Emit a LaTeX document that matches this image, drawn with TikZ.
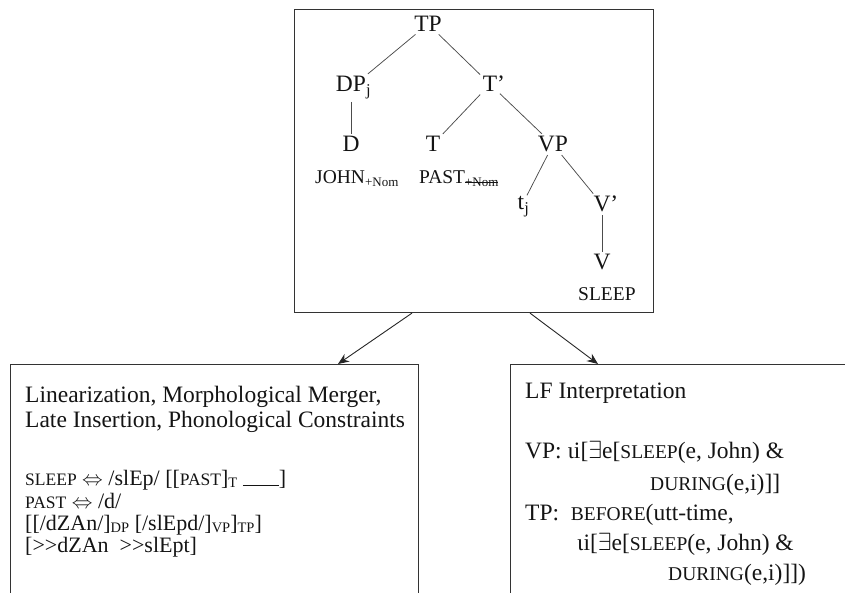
\documentclass[tikz,border=0pt]{standalone}
\usepackage{fontspec}
\setmainfont{Liberation Serif}
\usetikzlibrary{arrows.meta}

\newcommand\scA[1]{{\fontsize{19.5}{21}\selectfont #1}}
\newcommand\scL[1]{{\fontsize{17.5}{19}\selectfont #1}}
\newcommand\scR[1]{{\fontsize{19.5}{21}\selectfont #1}}
\newcommand\subsc[1]{\raisebox{-2.5pt}{\fontsize{13}{14}\selectfont #1}}
\newcommand\subsl[1]{\raisebox{-2.5pt}{\fontsize{14.5}{16}\selectfont #1}}
\newsavebox\strkbox
\newcommand\strk[1]{\sbox\strkbox{#1}\rlap{\usebox\strkbox}\rule[0.3em]{\wd\strkbox}{0.6pt}}

\begin{document}
\begin{tikzpicture}[x=1pt,y=-1pt,
  every node/.style={font=\fontsize{23.5}{26}\selectfont, text=black!92},
  cat/.style={inner sep=2.5pt},
  txt/.style={anchor=base west, inner sep=0pt},
  branch/.style={draw=black!70, line width=0.75pt},
  frame/.style={draw=black!80, line width=1.1pt, inner sep=0pt},
  arr/.style={draw=black!85, line width=0.9pt, -{Stealth[length=11pt,width=9pt]}}
]
\useasboundingbox (0,0) rectangle (845,593);
\clip (0,0) rectangle (845,593);

% frames
\node[frame, minimum width=359pt, minimum height=303pt, anchor=north west] (top) at (294,9) {};
\node[frame, minimum width=408pt, minimum height=300pt, anchor=north west] (lbox) at (10,364) {};
\node[frame, minimum width=400pt, minimum height=300pt, anchor=north west] (rbox) at (510,364) {};

% tree
\node[cat, anchor=base] (TP) at (428,31.7) {TP};
\node[cat, anchor=base] (DP) at (351,92) {DP\rlap{\textsubscript{j}}};
\node[cat, anchor=base] (Tb) at (490,92) {T\rlap{’}};
\node[cat, anchor=base] (D) at (351,152) {D};
\node[cat, anchor=base] (T) at (433,152) {T};
\node[cat, anchor=base] (VP) at (553,152) {VP};
\node[txt] (john) at (315,184) {\scA{JOHN}\subsc{+Nom}};
\node[txt] (past) at (419,184) {\scA{PAST}\subsc{\strk{+Nom}}};
\node[cat, anchor=base] (tj) at (521,210) {t\rlap{\textsubscript{j}}};
\node[cat, anchor=base] (Vb) at (602,212) {V\rlap{’}};
\node[cat, anchor=base] (V) at (602,270) {V};
\node[txt] (sleep) at (578,301) {\scA{SLEEP}};

\draw[branch] (TP) -- (DP);
\draw[branch] (TP) -- (Tb);
\draw[branch] (DP) -- (D);
\draw[branch] (Tb) -- (T);
\draw[branch] (Tb) -- (VP);
\draw[branch] (VP) -- (tj);
\draw[branch] (VP) -- (Vb);
\draw[branch] (Vb) -- (V);

% arrows
\draw[arr] (top.south -| 412,0) -- (lbox.north -| 338,0);
\draw[arr] (top.south -| 530,0) -- (rbox.north -| 598,0);

% left box text
\node[txt] (l1) at (25,402.7) {Linearization, Morphological Merger,};
\node[txt] (l2) at (25,427.7) {Late Insertion, Phonological Constraints};
\begin{scope}[every node/.append style={font=\fontsize{22}{24}\selectfont}]
\node[txt] (l3) at (25,485) {\scL{SLEEP} $\Leftrightarrow$ /slEp/ [[\scL{PAST}]\subsl{T} \rule[-1pt]{36pt}{0.8pt}]};
\node[txt] (l4) at (25,508) {\scL{PAST} $\Leftrightarrow$ /d/};
\node[txt] (l5) at (25,530) {[[/dZAn/]\subsl{DP} [/slEpd/]\subsl{VP}]\subsl{TP}]};
\node[txt] (l6) at (25,552.5) {[>{}>dZAn\ \ >{}>slEpt]};
\end{scope}

% right box text
\node[txt] (r1) at (525,398) {LF Interpretation};
\node[txt] (r2) at (525,458) {VP: ιi[$\exists$e[\scR{SLEEP}(e, John) \&};
\node[txt] (r3) at (650,490) {\scR{DURING}(e,i)]]};
\node[txt] (r4) at (525,520) {TP:\ \ \scR{BEFORE}(utt-time,};
\node[txt] (r5) at (577,550) {ιi[$\exists$e[\scR{SLEEP}(e, John) \&};
\node[txt] (r6) at (668,580) {\scR{DURING}(e,i)]])};
\end{tikzpicture}
\end{document}
